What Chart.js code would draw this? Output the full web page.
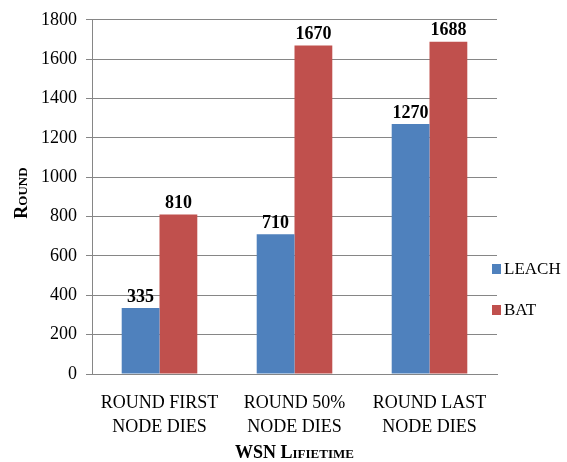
<!DOCTYPE html>
<html>
<head>
<meta charset="utf-8">
<script src="https://cdn.jsdelivr.net/npm/chart.js@4"></script>
<style>
  html, body { margin: 0; padding: 0; background: #fff; }
  #wrap { width: 567px; height: 462px; }
</style>
</head>
<body>
<div id="wrap"><canvas id="chartLifetime"></canvas></div>
<script>
var categories = [['ROUND FIRST', 'NODE DIES'], ['ROUND 50%', 'NODE DIES'], ['ROUND LAST', 'NODE DIES']];
var leachValues = [335, 710, 1270];
var batValues = [810, 1670, 1688];
var seriesNames = ['LEACH', 'BAT'];
var seriesColors = ['#4F81BD', '#C0504D'];
var yTitle = 'Round';
var xTitle = 'WSN Lifietime';

var SERIF = "'Liberation Serif', 'Times New Roman', serif";

// value labels on top of each bar
var barLabels = {
  id: 'barLabels',
  afterDatasetsDraw: function(chart) {
    var ctx = chart.ctx;
    ctx.save();
    ctx.font = 'bold 18px ' + SERIF;
    ctx.fillStyle = '#000';
    ctx.textAlign = 'center';
    ctx.textBaseline = 'bottom';
    chart.data.datasets.forEach(function(ds, i) {
      chart.getDatasetMeta(i).data.forEach(function(bar, j) {
        ctx.fillText(ds.data[j], bar.x, bar.y - 2);
      });
    });
    ctx.restore();
  }
};

// axis titles in small caps + legend on the right
var extras = {
  id: 'extras',
  afterDraw: function(chart) {
    var ctx = chart.ctx;
    var area = chart.chartArea;
    ctx.save();
    ctx.font = 'bold 18px ' + SERIF;
    ctx.fontVariantCaps = 'small-caps';
    ctx.fillStyle = '#000';
    ctx.textAlign = 'center';
    ctx.textBaseline = 'middle';
    ctx.fillText(xTitle, (area.left + area.right) / 2, 453);
    ctx.save();
    ctx.translate(22, 193);
    ctx.rotate(-Math.PI / 2);
    ctx.fillText(yTitle, 0, 0);
    ctx.restore();

    ctx.fontVariantCaps = 'normal';
    ctx.font = '17px ' + SERIF;
    ctx.textAlign = 'left';
    var ys = [269, 310];
    seriesNames.forEach(function(name, i) {
      ctx.fillStyle = seriesColors[i];
      ctx.fillRect(492, ys[i] - 5, 9, 10);
      ctx.fillStyle = '#000';
      ctx.fillText(name, 504, ys[i] + 1);
    });
    ctx.restore();
  }
};

var ctx = document.getElementById('chartLifetime').getContext('2d');
var chartLifetime = new Chart(ctx, {
  type: 'bar',
  data: {
    labels: categories,
    datasets: [
      { label: seriesNames[0], data: leachValues, backgroundColor: seriesColors[0] },
      { label: seriesNames[1], data: batValues, backgroundColor: seriesColors[1] }
    ]
  },
  options: {
    responsive: true,
    maintainAspectRatio: false,
    animation: false,
    layout: { padding: { left: 0, top: 17, right: 70, bottom: 0 } },
    plugins: { legend: { display: false }, tooltip: { enabled: false } },
    datasets: { bar: { categoryPercentage: 0.56, barPercentage: 1 } },
    scales: {
      x: {
        grid: { display: false },
        border: { color: '#868686' },
        ticks: { color: '#000', padding: 10, maxRotation: 0, font: { family: SERIF, size: 18, lineHeight: 1.3 } },
        afterFit: function(s) { s.height = 88; }
      },
      y: {
        min: 0, max: 1800,
        grid: { color: '#868686', tickLength: 6 },
        border: { color: '#868686' },
        ticks: {
          stepSize: 200, color: '#000', padding: 9, font: { family: SERIF, size: 18 },
          callback: function(v) { return String(v); }
        },
        afterFit: function(s) { s.width = 92; }
      }
    }
  },
  plugins: [barLabels, extras]
});
</script>
</body>
</html>
